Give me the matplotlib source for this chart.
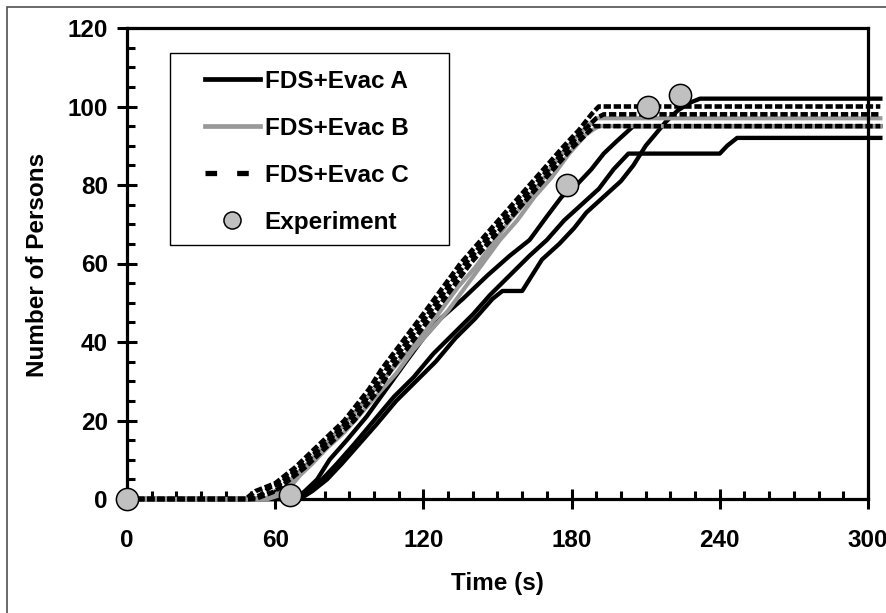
import numpy as np
import matplotlib
matplotlib.use("Agg")
import matplotlib.pyplot as plt
import matplotlib.ticker as mticker
from matplotlib.lines import Line2D
from matplotlib.patches import Rectangle

plt.rcParams["font.family"] = ["Liberation Sans", "DejaVu Sans"]
plt.rcParams["font.weight"] = "bold"

# ---------------------------------------------------------------------------
# Data
# ---------------------------------------------------------------------------

# FDS+Evac A runs (black solid)
a1_t = [0, 68, 72, 77, 82, 89, 97, 105, 113, 120, 127, 136, 146, 155, 163, 170, 176, 182, 188, 193, 198, 205, 305]
a1_n = [0, 0, 2, 5, 10, 15, 21, 28, 35, 41, 46, 51, 57, 62, 66, 72, 77, 80, 84, 88, 91, 95, 95]
a2_t = [0, 69, 74, 79, 85, 92, 100, 108, 116, 124, 132, 140, 147, 155, 163, 170, 177, 184, 191, 197, 203, 240, 243, 247, 305]
a2_n = [0, 0, 2, 5, 9, 14, 20, 26, 31, 37, 42, 47, 52, 57, 62, 66, 71, 75, 79, 84, 88, 88, 90, 92, 92]
a3_t = [0, 70, 75, 81, 87, 94, 101, 109, 117, 125, 133, 141, 148, 152, 160, 164, 168, 175, 181, 186, 193, 200,
        205, 210, 214, 218, 223, 228, 232, 236, 305]
a3_n = [0, 0, 2, 5, 9, 14, 19, 25, 30, 35, 41, 46, 51, 53, 53, 57, 61, 65, 69, 73, 77, 81,
        85, 90, 93, 96, 99, 101, 102, 102, 102]

# FDS+Evac B runs (grey solid)
b1_t = [0, 55, 60, 64, 68, 73, 79, 85, 92, 99, 106, 113, 120, 127, 134, 141, 148, 155, 162, 169, 176, 183, 190, 305]
b1_n = [0, 0, 1, 3, 6, 9, 13, 17, 22, 27, 32, 37, 42, 48, 54, 59, 65, 71, 76, 82, 88, 93, 97, 97]
b2_t = [0, 57, 62, 66, 70, 75, 81, 88, 95, 102, 109, 116, 123, 130, 137, 144, 151, 158, 165, 172, 179, 186, 191, 305]
b2_n = [0, 0, 1, 3, 6, 9, 13, 17, 22, 27, 32, 38, 43, 48, 54, 60, 66, 71, 77, 82, 88, 93, 95, 95]

# FDS+Evac C runs (black dashed)
c1_t = [0, 48, 52, 56, 60, 64, 68, 73, 78, 83, 88, 93, 98, 103, 109, 115, 121, 128, 135, 142, 149, 156, 163,
        170, 177, 183, 188, 191, 305]
c1_n = [0, 0, 2, 3, 4, 6, 8, 11, 14, 17, 20, 24, 28, 33, 38, 43, 48, 54, 60, 65, 70, 75, 80,
        85, 90, 94, 98, 100, 100]
c2_t = [0, 50, 54, 58, 62, 66, 70, 75, 80, 85, 90, 95, 100, 105, 111, 117, 123, 130, 137, 144, 151, 158, 165,
        172, 179, 185, 190, 193, 305]
c2_n = [0, 0, 1, 3, 4, 6, 8, 11, 14, 17, 20, 24, 28, 33, 38, 43, 48, 54, 60, 65, 70, 75, 80,
        85, 90, 94, 97, 98, 98]
c3_t = [0, 52, 56, 60, 64, 68, 72, 77, 82, 87, 92, 97, 102, 107, 113, 119, 125, 132, 139, 146, 153, 160, 167,
        174, 181, 186, 189, 305]
c3_n = [0, 0, 1, 2, 4, 6, 8, 11, 14, 17, 20, 24, 28, 33, 38, 43, 48, 54, 60, 65, 70, 75, 80,
        85, 90, 93, 95, 95]

# Experiment
exp_t = [0, 66, 178, 211, 224]
exp_n = [0, 1, 80, 100, 103]

labels = ["FDS+Evac A", "FDS+Evac B", "FDS+Evac C", "Experiment"]

GREY = "#999999"
MARKER_FACE = "#c0c0c0"
FS = 17.5

# ---------------------------------------------------------------------------
# Figure
# ---------------------------------------------------------------------------

fig = plt.figure(figsize=(8.87, 6.13), dpi=100)
ax = fig.add_axes([127 / 887, 114 / 613, 741 / 887, 471 / 613])

for t, n in [(a1_t, a1_n), (a2_t, a2_n), (a3_t, a3_n)]:
    ax.plot(t, n, color="black", lw=3.1, zorder=3, clip_on=False)
for t, n in [(b1_t, b1_n), (b2_t, b2_n)]:
    ax.plot(t, n, color=GREY, lw=3.0, zorder=3.1, clip_on=False)
for t, n in [(c1_t, c1_n), (c2_t, c2_n), (c3_t, c3_n)]:
    ax.plot(t, n, color="black", lw=3.3, ls=(0, (1.6, 0.6)), zorder=3.2, clip_on=False)

ax.plot(exp_t, exp_n, ls="none", marker="o", ms=16, mfc=MARKER_FACE, mec="black",
        mew=1.1, zorder=6, clip_on=False)

ax.set_xlim(0, 300)
ax.set_ylim(0, 120)
ax.xaxis.set_major_locator(mticker.MultipleLocator(60))
ax.xaxis.set_minor_locator(mticker.MultipleLocator(10))
ax.yaxis.set_major_locator(mticker.MultipleLocator(20))
ax.yaxis.set_minor_locator(mticker.MultipleLocator(5))

ax.tick_params(which="major", direction="inout", length=13.7, width=2.2, labelsize=FS)
ax.tick_params(which="minor", direction="in", length=5.8, width=2.2)
ax.tick_params(axis="x", which="major", pad=15)
ax.tick_params(axis="y", which="major", pad=7)

for side in ["left", "bottom", "top", "right"]:
    ax.spines[side].set_linewidth(2.3)
ax.spines["right"].set_zorder(5)

ax.set_xlabel("Time (s)", fontsize=FS, fontweight="bold", va="center")
ax.xaxis.set_label_coords(0.5, -0.1794)
ax.set_ylabel("Number of Persons", fontsize=FS, fontweight="bold", va="center")
ax.yaxis.set_label_coords(-0.1208, 0.497)

# legend: frame drawn by hand, contents from proxy handles
ax.add_patch(Rectangle((170 / 887, 1 - 245 / 613), 279 / 887, 192 / 613, transform=fig.transFigure,
                       fc="white", ec="black", lw=1.0, zorder=4.5, clip_on=False))
handles = [
    Line2D([], [], color="black", lw=3.4),
    Line2D([], [], color=GREY, lw=3.4),
    Line2D([], [], color="black", lw=3.8, ls=(0, (2.2, 3.8))),
    Line2D([], [], ls="none", marker="o", ms=12.3, mfc=MARKER_FACE, mec="black", mew=1.1),
]
leg = ax.legend(handles, labels, loc="upper left", bbox_to_anchor=(205 / 887, 1 - 69.5 / 613),
                bbox_transform=fig.transFigure, frameon=False, borderpad=0, borderaxespad=0,
                handlelength=2.26, handletextpad=0.2, labelspacing=0.99,
                prop={"size": FS, "weight": "bold"})
leg.set_zorder(5)

# outer border of the chart area
fig.add_artist(Rectangle((7 / 887, -0.5), 2, 0.5 + (1 - 6.5 / 613), transform=fig.transFigure,
                         fill=False, ec="#505050", lw=1.2))

fig.savefig("out.png", dpi=100)
